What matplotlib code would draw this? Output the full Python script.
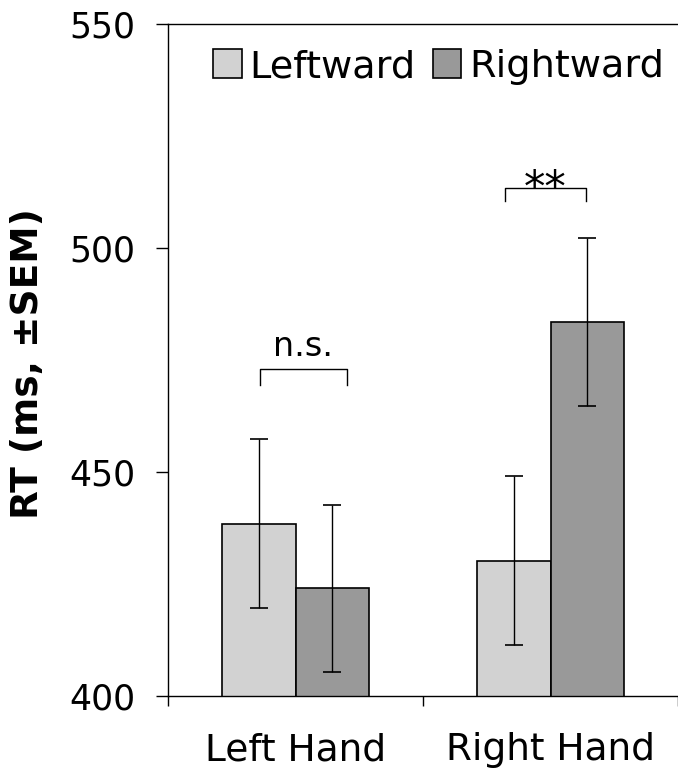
import numpy as np
import matplotlib
matplotlib.use("Agg")
import matplotlib.pyplot as plt

categories = ['Left Hand', 'Right Hand']
leftward = [438.5, 430.2]
rightward = [424.0, 483.5]
leftward_sem = [18.8, 18.8]
rightward_sem = [18.6, 18.8]
series = ['Leftward', 'Rightward']
yticks = [400, 450, 500, 550]

light = '#d2d2d2'
dark = '#999999'

plt.rcParams['font.family'] = 'DejaVu Sans'

fig = plt.figure(figsize=(6.78, 7.72), dpi=100)
ax = fig.add_axes([168/678, 1-696/772, 1-168/678, (696-24)/772])

x = np.arange(len(categories))
w = 0.288
off = 0.144
ax.bar(x - off, leftward, w, bottom=0, color=light, edgecolor='k', linewidth=1.2, label=series[0], zorder=2)
ax.bar(x + off, rightward, w, bottom=0, color=dark, edgecolor='k', linewidth=1.2, label=series[1], zorder=2)
ax.errorbar(x - off, leftward, yerr=leftward_sem, fmt='none', ecolor='k', elinewidth=1.0, capsize=6.5, capthick=1.2, zorder=3)
ax.errorbar(x + off, rightward, yerr=rightward_sem, fmt='none', ecolor='k', elinewidth=1.0, capsize=6.5, capthick=1.2, zorder=3)

ax.set_ylim(400, 550)
ax.set_xlim(-0.5, -0.5 + (678-168)/259)
ax.set_yticks(yticks)
ax.tick_params(axis='y', direction='out', length=8.5, width=1.0, pad=15, labelsize=25)
ax.set_xticks(x)
ax.set_xticklabels(categories)
ax.tick_params(axis='x', which='major', length=0, pad=26, labelsize=27)
ax.set_xticks([-0.5, 0.5, 1.5], minor=True)
ax.tick_params(axis='x', which='minor', direction='out', length=7, width=1.0)
for s in ['left', 'bottom', 'top']:
    ax.spines[s].set_linewidth(1.0)
ax.spines['right'].set_visible(False)

# significance brackets
def bracket(x0, x1, ytop, ybot, txt, ty, fs):
    ax.plot([x0, x0, x1, x1], [ybot, ytop, ytop, ybot], color='k', lw=1.0, clip_on=False)
    ax.text((x0 + x1) / 2, ty, txt, ha='center', va='baseline', fontsize=fs)

bracket(-0.14, 0.20, 473.1, 469.4, 'n.s.', 475.8, 24)
bracket(0.82, 1.14, 513.3, 510.4, '**', 510.5, 31)

fig.text(28/678, 1-364/772, 'RT (ms, \u00b1SEM)', rotation=90, ha='center', va='center',
         fontsize=27, fontweight='bold')

leg = fig.legend(loc='center left', bbox_to_anchor=(213/678, 1-67/772), ncol=2, frameon=False,
                 fontsize=27.5, handlelength=0.75, handleheight=0.8, handletextpad=0.2,
                 columnspacing=0.45, borderpad=0, borderaxespad=0)

fig.savefig('out.png', dpi=100)
